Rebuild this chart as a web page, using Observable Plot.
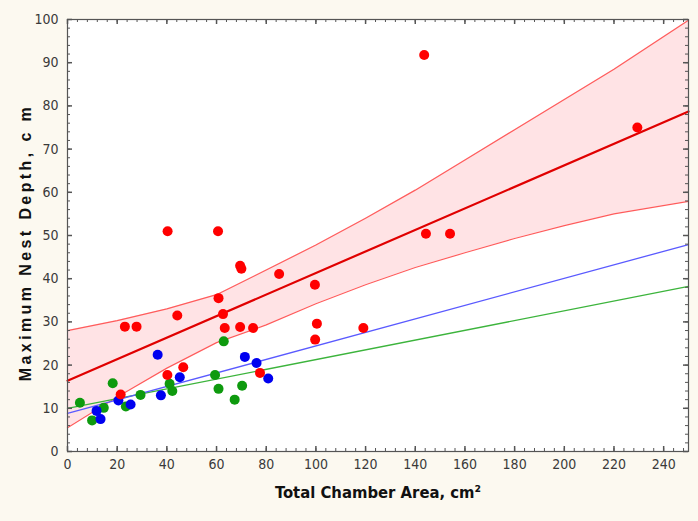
<!DOCTYPE html>
<html>
<head>
<meta charset="utf-8">
<script src="https://cdn.jsdelivr.net/npm/d3@7"></script>
<script src="https://cdn.jsdelivr.net/npm/@observablehq/plot@0.6"></script>
<style>
  html, body { margin: 0; padding: 0; background: #fcf9f0; }
</style>
</head>
<body>
<div id="chart"></div>
<script>
// --- data ---
const redX = [40.3, 60.6, 143.6, 144.3, 154, 229.4, 69.5, 70, 85.2, 99.6, 60.8, 44.2, 62.6, 23.1, 27.8, 63.3, 69.5, 74.7, 100.4, 99.7, 119.1, 46.6, 40.2, 77.5, 21.4];
const redY = [51.0, 51.0, 91.8, 50.4, 50.4, 75.0, 43.0, 42.3, 41.1, 38.6, 35.5, 31.5, 31.8, 28.9, 28.9, 28.6, 28.8, 28.6, 29.6, 25.9, 28.6, 19.5, 17.7, 18.2, 13.2];
const blueX = [36.3, 71.4, 76.1, 80.8, 45.2, 37.6, 20.5, 25.4, 11.7, 13.3];
const blueY = [22.4, 21.9, 20.5, 16.9, 17.2, 13.0, 11.8, 10.9, 9.4, 7.5];
const greenX = [62.9, 18.2, 59.4, 41.1, 42.2, 60.8, 70.3, 67.3, 29.4, 5.0, 14.6, 23.5, 9.9];
const greenY = [25.5, 15.8, 17.7, 15.7, 14.0, 14.5, 15.2, 12.0, 13.1, 11.3, 10.1, 10.4, 7.2];

// fitted lines (endpoints)
const lineX = [0, 250];
const redLineY = [16.4, 78.7];
const blueLineY = [8.8, 47.9];
const greenLineY = [10.0, 38.2];

// confidence band of the red fit
const bandX     = [0,    20,   40,   60,   80,   100,  120,  140,  160,  180,  200,  220,  250];
const bandUpper = [28.0, 30.3, 33.0, 36.3, 42.0, 47.8, 54.0, 60.5, 67.5, 74.5, 81.5, 88.5, 99.8];
const bandLower = [5.5,  12.6, 19.3, 25.2, 29.3, 34.2, 38.6, 42.6, 46.0, 49.3, 52.3, 55.0, 57.9];

const xTicks = d3.range(0, 241, 20);
const yTicks = d3.range(0, 101, 10);
const xMinor = d3.range(0, 251, 4);
const yMinor = d3.range(0, 101, 2);

const xTitle = "Total Chamber Area, cm²";
const yTitle = "Maximum Nest Depth, c m";

// --- build tables ---
const pts = (xs, ys) => xs.map((x, i) => ({x, y: ys[i]}));
const band = bandX.map((x, i) => ({x, lo: bandLower[i], hi: bandUpper[i]}));

const W = 698, H = 521, mL = 67, mR = 10, mT = 19, mB = 70;
const pw = W - mL - mR, ph = H - mT - mB;
const frameColor = "#555";

const chart = Plot.plot({
  width: W, height: H,
  marginLeft: mL, marginRight: mR, marginTop: mT, marginBottom: mB,
  style: {background: "#fcf9f0", fontFamily: "'DejaVu Sans', sans-serif", fontStretch: "condensed", fontSize: "14px", color: "#3a3a3a"},
  x: {domain: [0, 250], label: null},
  y: {domain: [0, 100], label: null},
  marks: [
    Plot.frame({fill: "white", stroke: null}),
    Plot.areaY(band, {x: "x", y1: "lo", y2: "hi", fill: "#ffe3e5"}),
    Plot.line(band, {x: "x", y: "hi", stroke: "#ff5c5c", strokeWidth: 1.2}),
    Plot.line(band, {x: "x", y: "lo", stroke: "#ff5c5c", strokeWidth: 1.2}),
    Plot.line(pts(lineX, greenLineY), {x: "x", y: "y", stroke: "#3cb43c", strokeWidth: 1.3}),
    Plot.line(pts(lineX, blueLineY), {x: "x", y: "y", stroke: "#5a5aff", strokeWidth: 1.3}),
    Plot.line(pts(lineX, redLineY), {x: "x", y: "y", stroke: "#e00000", strokeWidth: 2.2}),
    Plot.dot(pts(greenX, greenY), {x: "x", y: "y", r: 5, fill: "#0e9a0e"}),
    Plot.dot(pts(blueX, blueY), {x: "x", y: "y", r: 5, fill: "#0000f0"}),
    Plot.dot(pts(redX, redY), {x: "x", y: "y", r: 5, fill: "#ff0000"}),
    // inner ticks
    Plot.tickX(xMinor, {x: d => d, stroke: frameColor, insetTop: ph - 3}),
    Plot.tickX(xMinor, {x: d => d, stroke: frameColor, insetBottom: ph - 3}),
    Plot.tickY(yMinor, {y: d => d, stroke: frameColor, insetRight: pw - 3}),
    Plot.tickY(yMinor, {y: d => d, stroke: frameColor, insetLeft: pw - 3}),
    Plot.tickX(xTicks, {x: d => d, stroke: frameColor, strokeWidth: 1.5, insetTop: ph - 5}),
    Plot.tickX(xTicks, {x: d => d, stroke: frameColor, strokeWidth: 1.5, insetBottom: ph - 5}),
    Plot.tickY(yTicks, {y: d => d, stroke: frameColor, strokeWidth: 1.5, insetRight: pw - 5}),
    Plot.tickY(yTicks, {y: d => d, stroke: frameColor, strokeWidth: 1.5, insetLeft: pw - 5}),
    Plot.frame({stroke: frameColor, strokeWidth: 1.2}),
    Plot.axisX({ticks: xTicks, tickSize: 0, tickPadding: 8, fontSize: 14, label: null}),
    Plot.axisY({ticks: yTicks, tickSize: 0, tickPadding: 9, fontSize: 14, label: null}),
    Plot.text([xTitle], {text: d => d, frameAnchor: "bottom", dy: 46, fontWeight: "bold", fontSize: 16.5, fill: "#111"}),
    Plot.text([yTitle], {text: d => d, frameAnchor: "left", textAnchor: "middle", dx: -42, dy: 7, rotate: -90, fontWeight: "bold", fontSize: 16, fill: "#111", fontFamily: "'Liberation Sans', Arial, sans-serif"})
  ]
});

d3.select(chart).selectAll("text").filter(function() { return this.textContent === yTitle; })
  .attr("letter-spacing", "3.4px").style("font-stretch", "normal");
document.getElementById("chart").appendChild(chart);
</script>
</body>
</html>
